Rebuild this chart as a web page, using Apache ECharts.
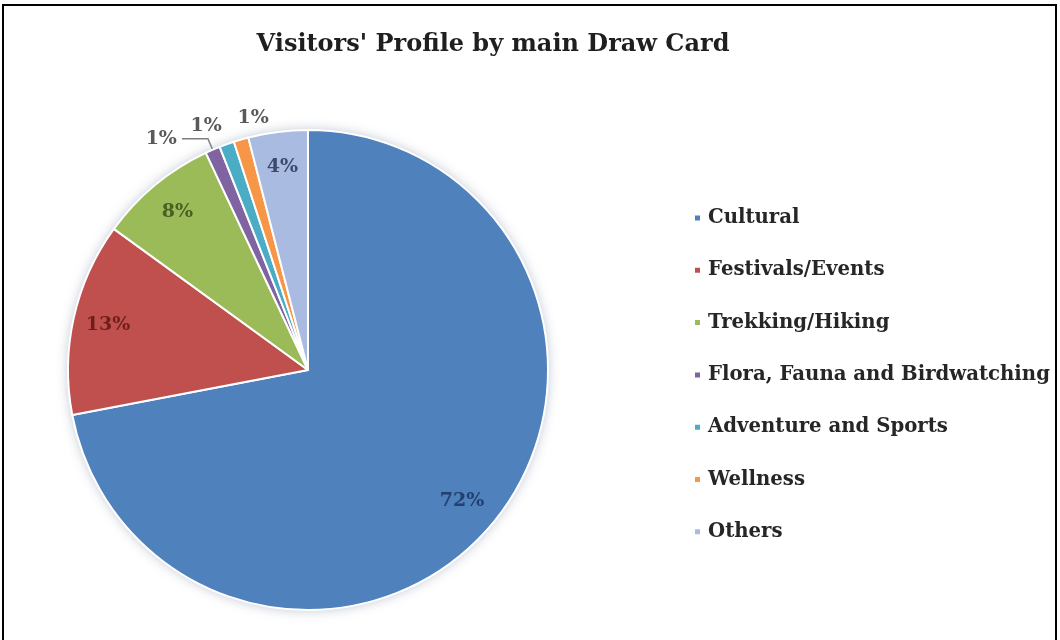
<!DOCTYPE html>
<html>
<head>
<meta charset="utf-8">
<title>Visitors' Profile by main Draw Card</title>
<script src="https://cdn.jsdelivr.net/npm/echarts@6/dist/echarts.min.js"></script>
<style>
  html, body { margin: 0; padding: 0; background: #ffffff; }
  #chart { width: 1060px; height: 640px; }
</style>
</head>
<body>
<div id="chart"></div>
<script>
// Share of visitors by main draw card (percent)
const categories = [
  'Cultural',
  'Festivals/Events',
  'Trekking/Hiking',
  'Flora, Fauna and Birdwatching',
  'Adventure and Sports',
  'Wellness',
  'Others'
];
const shares = [72, 13, 8, 1, 1, 1, 4];
const sliceColors = ['#4F81BD', '#C0504D', '#9BBB59', '#8064A2', '#4BACC6', '#F79646', '#A9BBE0'];
const labelColors = ['#23406e', '#6e1f1c', '#4a5f22', '#595959', '#595959', '#595959', '#3c4a6e'];

const FONT = '"DejaVu Serif", "Liberation Serif", serif';
const CENTER = [308, 370];
const R = 240;

// label placement per slice: 'mid' = inside the slice, 'ring' = just above the rim, 'line' = outside with leader line
const labelMode = ['mid', 'mid', 'mid', 'line', 'ring', 'ring', 'mid'];
const labelNudge = [[-4, 0], [0, 0], [0, 0], [0, 0], [-11, 8], [20, 5], [0, 0]];

const baseLabel = {
  formatter: '{c}%',
  fontFamily: FONT,
  fontWeight: 'bold',
  fontSize: 19
};

// main slices; only the leader-line label is drawn here
const mainData = categories.map((name, i) => ({
  name,
  value: shares[i],
  itemStyle: { color: sliceColors[i] },
  label: { show: labelMode[i] === 'line', position: 'outside', color: labelColors[i] },
  labelLine: { show: labelMode[i] === 'line' }
}));

// transparent twin pies that carry the remaining labels at the wanted distance from the centre
const twinData = mode => categories.map((name, i) => ({
  name,
  value: shares[i],
  itemStyle: { color: 'rgba(0,0,0,0)' },
  label: { show: labelMode[i] === mode, color: labelColors[i], offset: labelNudge[i] }
}));

const twinPie = (radius, mode, z) => ({
  type: 'pie',
  center: CENTER,
  radius,
  startAngle: 90,
  clockwise: true,
  silent: true,
  z,
  label: Object.assign({ position: 'inside' }, baseLabel),
  labelLine: { show: false },
  data: twinData(mode)
});

const chart = echarts.init(document.getElementById('chart'), null, { renderer: 'canvas' });

chart.setOption({
  backgroundColor: '#ffffff',
  animation: false,
  title: {
    text: "Visitors' Profile by main Draw Card",
    left: 488,
    top: 28,
    textAlign: 'center',
    textStyle: { fontFamily: FONT, fontWeight: 'bold', fontSize: 24, color: '#1f1f1f' }
  },
  graphic: [{
    type: 'rect',
    shape: { x: 3, y: 5, width: 1053, height: 645 },
    style: { fill: 'none', stroke: '#000000', lineWidth: 2 },
    silent: true
  }],
  legend: {
    orient: 'vertical',
    left: 688,
    top: 203,
    itemGap: 32.3,
    itemWidth: 7,
    itemHeight: 7,
    icon: 'rect',
    data: categories.map((name, i) => ({ name, itemStyle: { color: sliceColors[i] } })),
    textStyle: { fontFamily: FONT, fontWeight: 'bold', fontSize: 19.7, color: '#262626', padding: [0, 0, 0, 2] },
    selectedMode: false
  },
  series: [
    {
      // soft halo under the pie
      type: 'pie',
      center: CENTER,
      radius: R,
      silent: true,
      z: 1,
      label: { show: false },
      labelLine: { show: false },
      itemStyle: { color: '#ffffff', shadowBlur: 12, shadowColor: 'rgba(60,80,120,0.35)' },
      data: [{ value: 1, name: '' }]
    },
    {
      type: 'pie',
      center: CENTER,
      radius: R,
      startAngle: 90,
      clockwise: true,
      z: 2,
      itemStyle: { borderColor: '#ffffff', borderWidth: 2 },
      label: baseLabel,
      labelLine: {
        length: 12,
        length2: 26,
        lineStyle: { color: '#7f7f7f', width: 1.5 }
      },
      data: mainData
    },
    twinPie(404, 'mid', 3),
    twinPie(530, 'ring', 4)
  ]
});
</script>
</body>
</html>
